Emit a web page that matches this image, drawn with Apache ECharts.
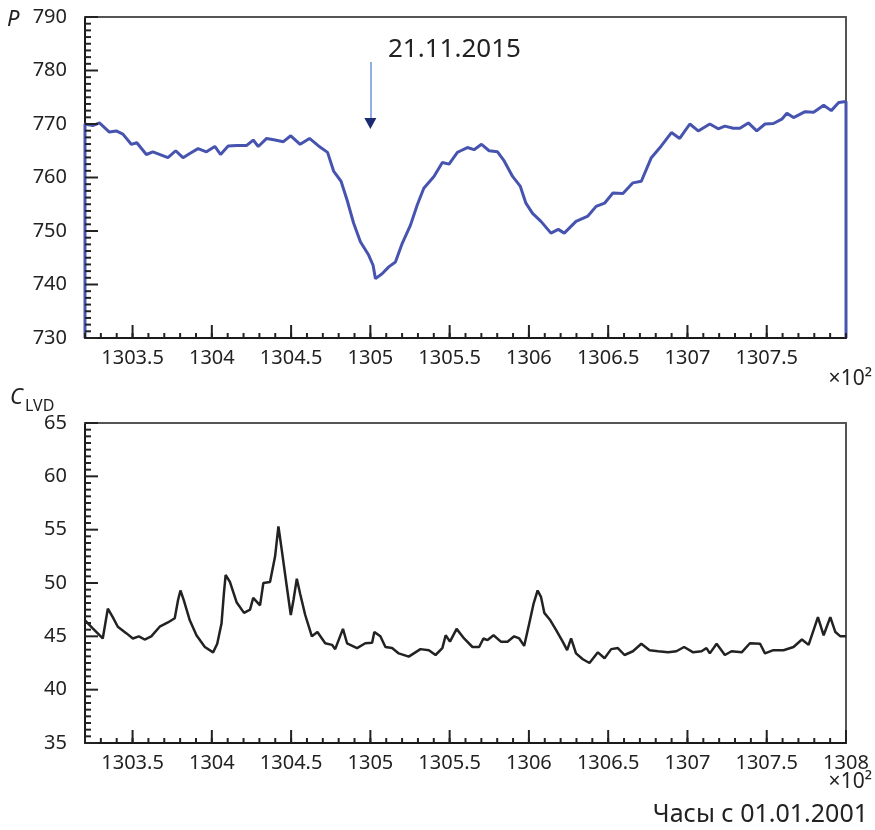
<!DOCTYPE html>
<html>
<head>
<meta charset="utf-8">
<title>P и C_LVD</title>
<script src="https://cdn.jsdelivr.net/npm/echarts@6.0.0/dist/echarts.min.js"></script>
<style>
    html, body {margin: 0; padding: 0; background: #fff;}
    #chart_main {width: 875px; height: 830px;}
</style>
</head>
<body>
<div id="chart_main"></div>
<script>
// часы с 01.01.2001, в единицах x10^2
var pressHours = [1303.2, 1303.2, 1303.249, 1303.291, 1303.354, 1303.397, 1303.439, 1303.492, 1303.527, 1303.587,
    1303.628, 1303.682, 1303.723, 1303.772, 1303.818, 1303.861, 1303.913, 1303.966, 1304.019, 1304.055,
    1304.103, 1304.156, 1304.220, 1304.261, 1304.293, 1304.346, 1304.399, 1304.451, 1304.498, 1304.557,
    1304.616, 1304.673, 1304.730, 1304.768, 1304.815, 1304.853, 1304.894, 1304.937, 1304.989, 1305.017,
    1305.032, 1305.074, 1305.116, 1305.158, 1305.201, 1305.253, 1305.296, 1305.337, 1305.401, 1305.454,
    1305.496, 1305.549, 1305.570, 1305.612, 1305.654, 1305.701, 1305.749, 1305.802, 1305.844, 1305.897,
    1305.945, 1305.981, 1306.023, 1306.076, 1306.139, 1306.185, 1306.223, 1306.297, 1306.372, 1306.424,
    1306.477, 1306.530, 1306.593, 1306.656, 1306.709, 1306.772, 1306.835, 1306.899, 1306.951, 1307.015,
    1307.068, 1307.141, 1307.194, 1307.236, 1307.289, 1307.331, 1307.384, 1307.437, 1307.489, 1307.542,
    1307.595, 1307.627, 1307.669, 1307.742, 1307.796, 1307.859, 1307.907, 1307.954, 1308.0, 1308.0];
var pressValues = [730, 770.0, 769.7, 770.2, 768.5, 768.7, 768.1, 766.2, 766.5, 764.3,
    764.8, 764.2, 763.7, 765.0, 763.7, 764.5, 765.4, 764.8, 765.8, 764.3,
    765.9, 766.0, 766.0, 767.0, 765.8, 767.3, 767.0, 766.7, 767.8, 766.2,
    767.3, 765.9, 764.7, 761.2, 759.3, 755.8, 751.5, 748.0, 745.5, 743.6,
    741.1, 742.0, 743.3, 744.2, 747.7, 751.1, 754.9, 758.0, 760.2, 762.8,
    762.5, 764.7, 765.0, 765.6, 765.2, 766.2, 765.0, 764.8, 763.1, 760.2,
    758.4, 755.2, 753.3, 751.8, 749.6, 750.3, 749.6, 751.8, 752.8, 754.6,
    755.2, 757.1, 757.0, 759.0, 759.3, 763.7, 765.9, 768.4, 767.3, 770.0,
    768.7, 770.0, 769.1, 769.6, 769.2, 769.2, 770.2, 768.7, 770.0, 770.1,
    770.9, 772.0, 771.2, 772.3, 772.2, 773.5, 772.5, 774.0, 774.2, 730];

var lvdHours = [1303.2, 1303.249, 1303.312, 1303.344, 1303.375, 1303.407, 1303.460, 1303.502, 1303.540, 1303.576,
    1303.618, 1303.671, 1303.723, 1303.766, 1303.787, 1303.802, 1303.823, 1303.861, 1303.903, 1303.956,
    1304.008, 1304.034, 1304.061, 1304.076, 1304.087, 1304.114, 1304.156, 1304.203, 1304.241, 1304.261,
    1304.304, 1304.325, 1304.367, 1304.399, 1304.420, 1304.441, 1304.473, 1304.498, 1304.515, 1304.536,
    1304.557, 1304.589, 1304.631, 1304.666, 1304.715, 1304.758, 1304.778, 1304.827, 1304.853, 1304.916,
    1304.968, 1305.011, 1305.025, 1305.063, 1305.095, 1305.137, 1305.179, 1305.242, 1305.316, 1305.369,
    1305.411, 1305.454, 1305.475, 1305.502, 1305.544, 1305.591, 1305.644, 1305.686, 1305.713, 1305.739,
    1305.777, 1305.823, 1305.865, 1305.907, 1305.939, 1305.970, 1306.002, 1306.030, 1306.055, 1306.076,
    1306.097, 1306.135, 1306.171, 1306.213, 1306.241, 1306.266, 1306.297, 1306.340, 1306.382, 1306.435,
    1306.477, 1306.519, 1306.561, 1306.603, 1306.656, 1306.709, 1306.761, 1306.815, 1306.878, 1306.930,
    1306.979, 1307.036, 1307.089, 1307.120, 1307.141, 1307.184, 1307.236, 1307.278, 1307.342, 1307.394,
    1307.458, 1307.489, 1307.542, 1307.606, 1307.669, 1307.722, 1307.764, 1307.796, 1307.823, 1307.859,
    1307.901, 1307.933, 1307.965, 1308.0];
var lvdValues = [46.5, 45.75, 44.8, 47.6, 46.8, 45.9, 45.3, 44.8, 45.0, 44.7,
    45.0, 45.9, 46.3, 46.7, 48.4, 49.3, 48.4, 46.5, 45.1, 44.0,
    43.5, 44.3, 46.2, 49.0, 50.75, 50.1, 48.2, 47.2, 47.5, 48.6,
    47.9, 50.0, 50.1, 52.5, 55.3, 53.1, 49.65, 47.0, 48.4, 50.4,
    49.0, 47.0, 45.0, 45.4, 44.35, 44.2, 43.8, 45.7, 44.35, 43.9,
    44.35, 44.4, 45.4, 45.0, 44.0, 43.9, 43.4, 43.1, 43.8, 43.7,
    43.25, 43.9, 45.1, 44.5, 45.7, 44.8, 44.0, 44.0, 44.8, 44.65,
    45.1, 44.5, 44.5, 45.0, 44.8, 44.1, 46.2, 48.1, 49.3, 48.7,
    47.2, 46.5, 45.6, 44.5, 43.7, 44.8, 43.4, 42.85, 42.5, 43.5,
    42.95, 43.8, 43.9, 43.25, 43.6, 44.3, 43.7, 43.6, 43.5, 43.6,
    44.0, 43.5, 43.6, 43.9, 43.4, 44.3, 43.25, 43.6, 43.5, 44.35,
    44.3, 43.4, 43.7, 43.7, 44.0, 44.7, 44.2, 45.6, 46.8, 45.1,
    46.8, 45.4, 45.0, 45.0];

var topTickLabels = [1303.5, 1304, 1304.5, 1305, 1305.5, 1306, 1306.5, 1307, 1307.5];
var bottomTickLabels = [1303.5, 1304, 1304.5, 1305, 1305.5, 1306, 1306.5, 1307, 1307.5, 1308];
var eventHour = 1305.0;
var eventLabel = '21.11.2015';

var X_MIN = 1303.2, X_MAX = 1308.0;
var FONT = '"Noto Sans", "Open Sans", sans-serif';
var INK = '#222';
var AXIS = '#1a1a1a';
var TICK = '#222';

function pairs(xs, ys) {
    var out = [];
    for (var i = 0; i < xs.length; i++) {
        out.push([xs[i], ys[i]]);
    }
    return out;
}

// риски внутрь рамки: [x, y, длина, 0 - вертикальная / 1 - горизонтальная]
function buildTicks(yMin, yMax, yStep, xLabels) {
    var items = [], k, v;
    for (k = 0; X_MIN + k * 0.1 <= X_MAX + 1e-9; k++) {
        items.push([Math.round((X_MIN + k * 0.1) * 10) / 10, yMin, 5, 0]);
    }
    for (k = 0; k < xLabels.length; k++) {
        items.push([xLabels[k], yMin, 13, 0]);
    }
    var minorSplit = 8;
    var nMinor = Math.round((yMax - yMin) / yStep) * minorSplit;
    for (k = 0; k <= nMinor; k++) {
        v = yMin + k * yStep / minorSplit;
        items.push([X_MIN, v, (k % minorSplit === 0) ? 13 : 6, 1]);
    }
    return items;
}

function renderTick(params, api) {
    var p = api.coord([api.value(0), api.value(1)]);
    var len = api.value(2);
    var shape = api.value(3) === 1
        ? {x1: p[0], y1: p[1], x2: p[0] + len, y2: p[1]}
        : {x1: p[0], y1: p[1], x2: p[0], y2: p[1] - len};
    return {type: 'line', shape: shape, style: {stroke: TICK, lineWidth: 2}};
}

function mainXAxis(gridIndex, labels) {
    return {
        gridIndex: gridIndex, type: 'value', position: 'bottom',
        min: X_MIN, max: X_MAX,
        axisLine: {show: true, onZero: false, lineStyle: {color: AXIS, width: 2}},
        axisTick: {show: false},
        axisLabel: {
            show: true, customValues: labels, margin: 10, fontSize: 20, color: INK, fontFamily: FONT,
            formatter: function (v) { return String(Math.round(v * 10) / 10); }
        },
        splitLine: {show: false}
    };
}

// верхняя граница рамки
function frameXAxis(gridIndex) {
    return {
        gridIndex: gridIndex, type: 'value', position: 'top', min: X_MIN, max: X_MAX,
        axisLine: {show: true, onZero: false, lineStyle: {color: '#555', width: 2}},
        axisTick: {show: false}, axisLabel: {show: false}, splitLine: {show: false}
    };
}

function mainYAxis(gridIndex, min, max, step) {
    return {
        gridIndex: gridIndex, type: 'value', position: 'left', min: min, max: max, interval: step,
        axisLine: {show: true, onZero: false, lineStyle: {color: AXIS, width: 2}},
        axisTick: {show: false},
        axisLabel: {margin: 18, fontSize: 20, color: INK, fontFamily: FONT},
        splitLine: {show: false}
    };
}

// правая граница рамки
function frameYAxis(gridIndex, min, max) {
    return {
        gridIndex: gridIndex, type: 'value', position: 'right', min: min, max: max,
        axisLine: {show: true, onZero: false, lineStyle: {color: '#555', width: 2}},
        axisTick: {show: false}, axisLabel: {show: false}, splitLine: {show: false}
    };
}

var chart = echarts.init(document.getElementById('chart_main'));

var option = {
    animation: false,
    backgroundColor: '#fff',
    grid: [
        {left: 85, top: 17, width: 761, height: 321},
        {left: 85, top: 423, width: 761, height: 320}
    ],
    xAxis: [
        mainXAxis(0, topTickLabels),
        frameXAxis(0),
        mainXAxis(1, bottomTickLabels),
        frameXAxis(1)
    ],
    yAxis: [
        mainYAxis(0, 730, 790, 10),
        frameYAxis(0, 730, 790),
        mainYAxis(1, 35, 65, 5),
        frameYAxis(1, 35, 65)
    ],
    series: [
        {
            name: 'ticks_top', type: 'custom', xAxisIndex: 0, yAxisIndex: 0, silent: true, z: 5,
            renderItem: renderTick, data: buildTicks(730, 790, 10, topTickLabels)
        },
        {
            name: 'ticks_bottom', type: 'custom', xAxisIndex: 2, yAxisIndex: 2, silent: true, z: 5,
            renderItem: renderTick, data: buildTicks(35, 65, 5, bottomTickLabels)
        },
        {
            name: 'P', type: 'line', xAxisIndex: 0, yAxisIndex: 0,
            data: pairs(pressHours, pressValues),
            showSymbol: false, smooth: false,
            lineStyle: {color: '#4654b0', width: 3},
            markLine: {
                silent: true, symbol: ['none', 'none'],
                lineStyle: {color: '#8fb0e0', width: 2, type: 'solid'},
                label: {show: false},
                data: [[{coord: [eventHour, 781.6]}, {coord: [eventHour, 771]}]]
            },
            markPoint: {
                silent: true, symbol: 'triangle', symbolRotate: 180, symbolSize: [12, 11],
                itemStyle: {color: '#1c2b70'},
                label: {show: false},
                data: [{coord: [eventHour, 770.1]}]
            }
        },
        {
            name: 'C_LVD', type: 'line', xAxisIndex: 2, yAxisIndex: 2,
            data: pairs(lvdHours, lvdValues),
            showSymbol: false, smooth: false,
            lineStyle: {color: '#222', width: 2.5}
        }
    ],
    graphic: [
        {type: 'text', left: 7, top: 9, style: {text: 'P', font: 'italic 22px ' + FONT, fill: INK}},
        {type: 'text', left: 388, top: 37, style: {text: eventLabel, font: '26px ' + FONT, fill: INK}},
        {type: 'text', right: 3, top: 369, style: {text: '×10²', font: '21px ' + FONT, fill: INK}},
        {type: 'text', left: 10, top: 387, style: {text: 'C', font: 'italic 22px ' + FONT, fill: INK}},
        {type: 'text', left: 25, top: 398, style: {text: 'LVD', font: '16px ' + FONT, fill: INK}},
        {type: 'text', right: 3, top: 772, style: {text: '×10²', font: '21px ' + FONT, fill: INK}},
        {type: 'text', right: 7, top: 802, style: {text: 'Часы с 01.01.2001', font: '25px ' + FONT, fill: INK}}
    ]
};
chart.setOption(option);
</script>
</body>
</html>
